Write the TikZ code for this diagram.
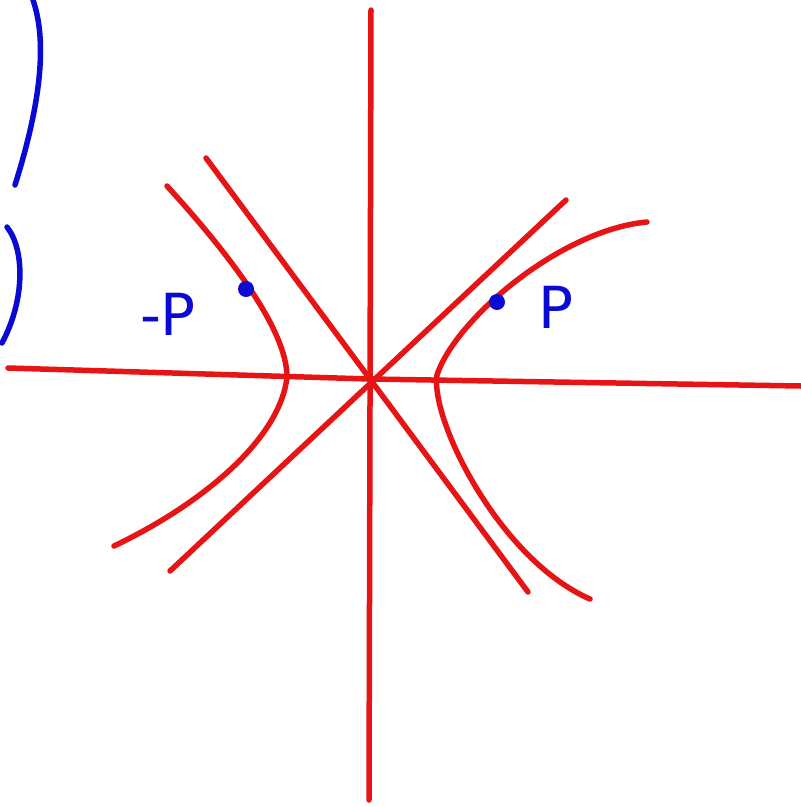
\documentclass[tikz,border=0pt]{standalone}
\usepackage{fontspec}
\setmainfont{DejaVu Sans}
\definecolor{penred}{RGB}{230,20,20}
\definecolor{penblue}{RGB}{10,10,210}
\tikzset{
  redline/.style={draw=penred, line width=5.5pt, line cap=round, line join=round},
  blueline/.style={draw=penblue, line width=5.5pt, line cap=round, line join=round},
  dotpt/.style={circle, fill=penblue, inner sep=0pt, minimum size=16pt},
  lbl/.style={text=penblue, font=\fontsize{58}{58}\selectfont, inner sep=0pt}
}
\begin{document}
\begin{tikzpicture}[x=1pt,y=-1pt]
\useasboundingbox (0,0) rectangle (801,807);
% axes
\coordinate (vt) at (371,10);
\coordinate (vb) at (369,800);
\coordinate (hl) at (8,368);
\coordinate (hr) at (801,386);
\coordinate (o) at (370,379);
\draw[redline] (vt) -- (vb);
\draw[redline] (hl) -- (o) -- (hr);
% asymptotes
\coordinate (a1s) at (206,158);
\coordinate (a1e) at (528,592);
\coordinate (a2s) at (170,571);
\coordinate (a2e) at (566,200);
\draw[redline] (a1s) -- (a1e);
\draw[redline] (a2s) -- (a2e);
% left branch
\coordinate (l1) at (167,186);
\coordinate (lv) at (287,377);
\coordinate (l2) at (114,546);
\draw[redline] (l1) .. controls (230,255) and (287,330) .. (lv)
  .. controls (280,440) and (200,505) .. (l2);
% right branch
\coordinate (r1) at (647,222);
\coordinate (rv) at (437,375);
\coordinate (r2) at (590,599);
\draw[redline] (r1) .. controls (560,230) and (455,320) .. (rv)
  .. controls (430,420) and (500,560) .. (r2);
% points
\node[dotpt] (mp) at (246,289) {};
\node[dotpt] (pp) at (497,302) {};
\node[lbl] (mpl) at (168,314) {-P};
\node[lbl] (ppl) at (556,307) {P};
% blue brace fragments
\draw[blueline] (33,0) .. controls (45,35) and (45,90) .. (15,185);
\draw[blueline] (7,227) .. controls (25,250) and (25,300) .. (2,343);
\end{tikzpicture}
\end{document}
